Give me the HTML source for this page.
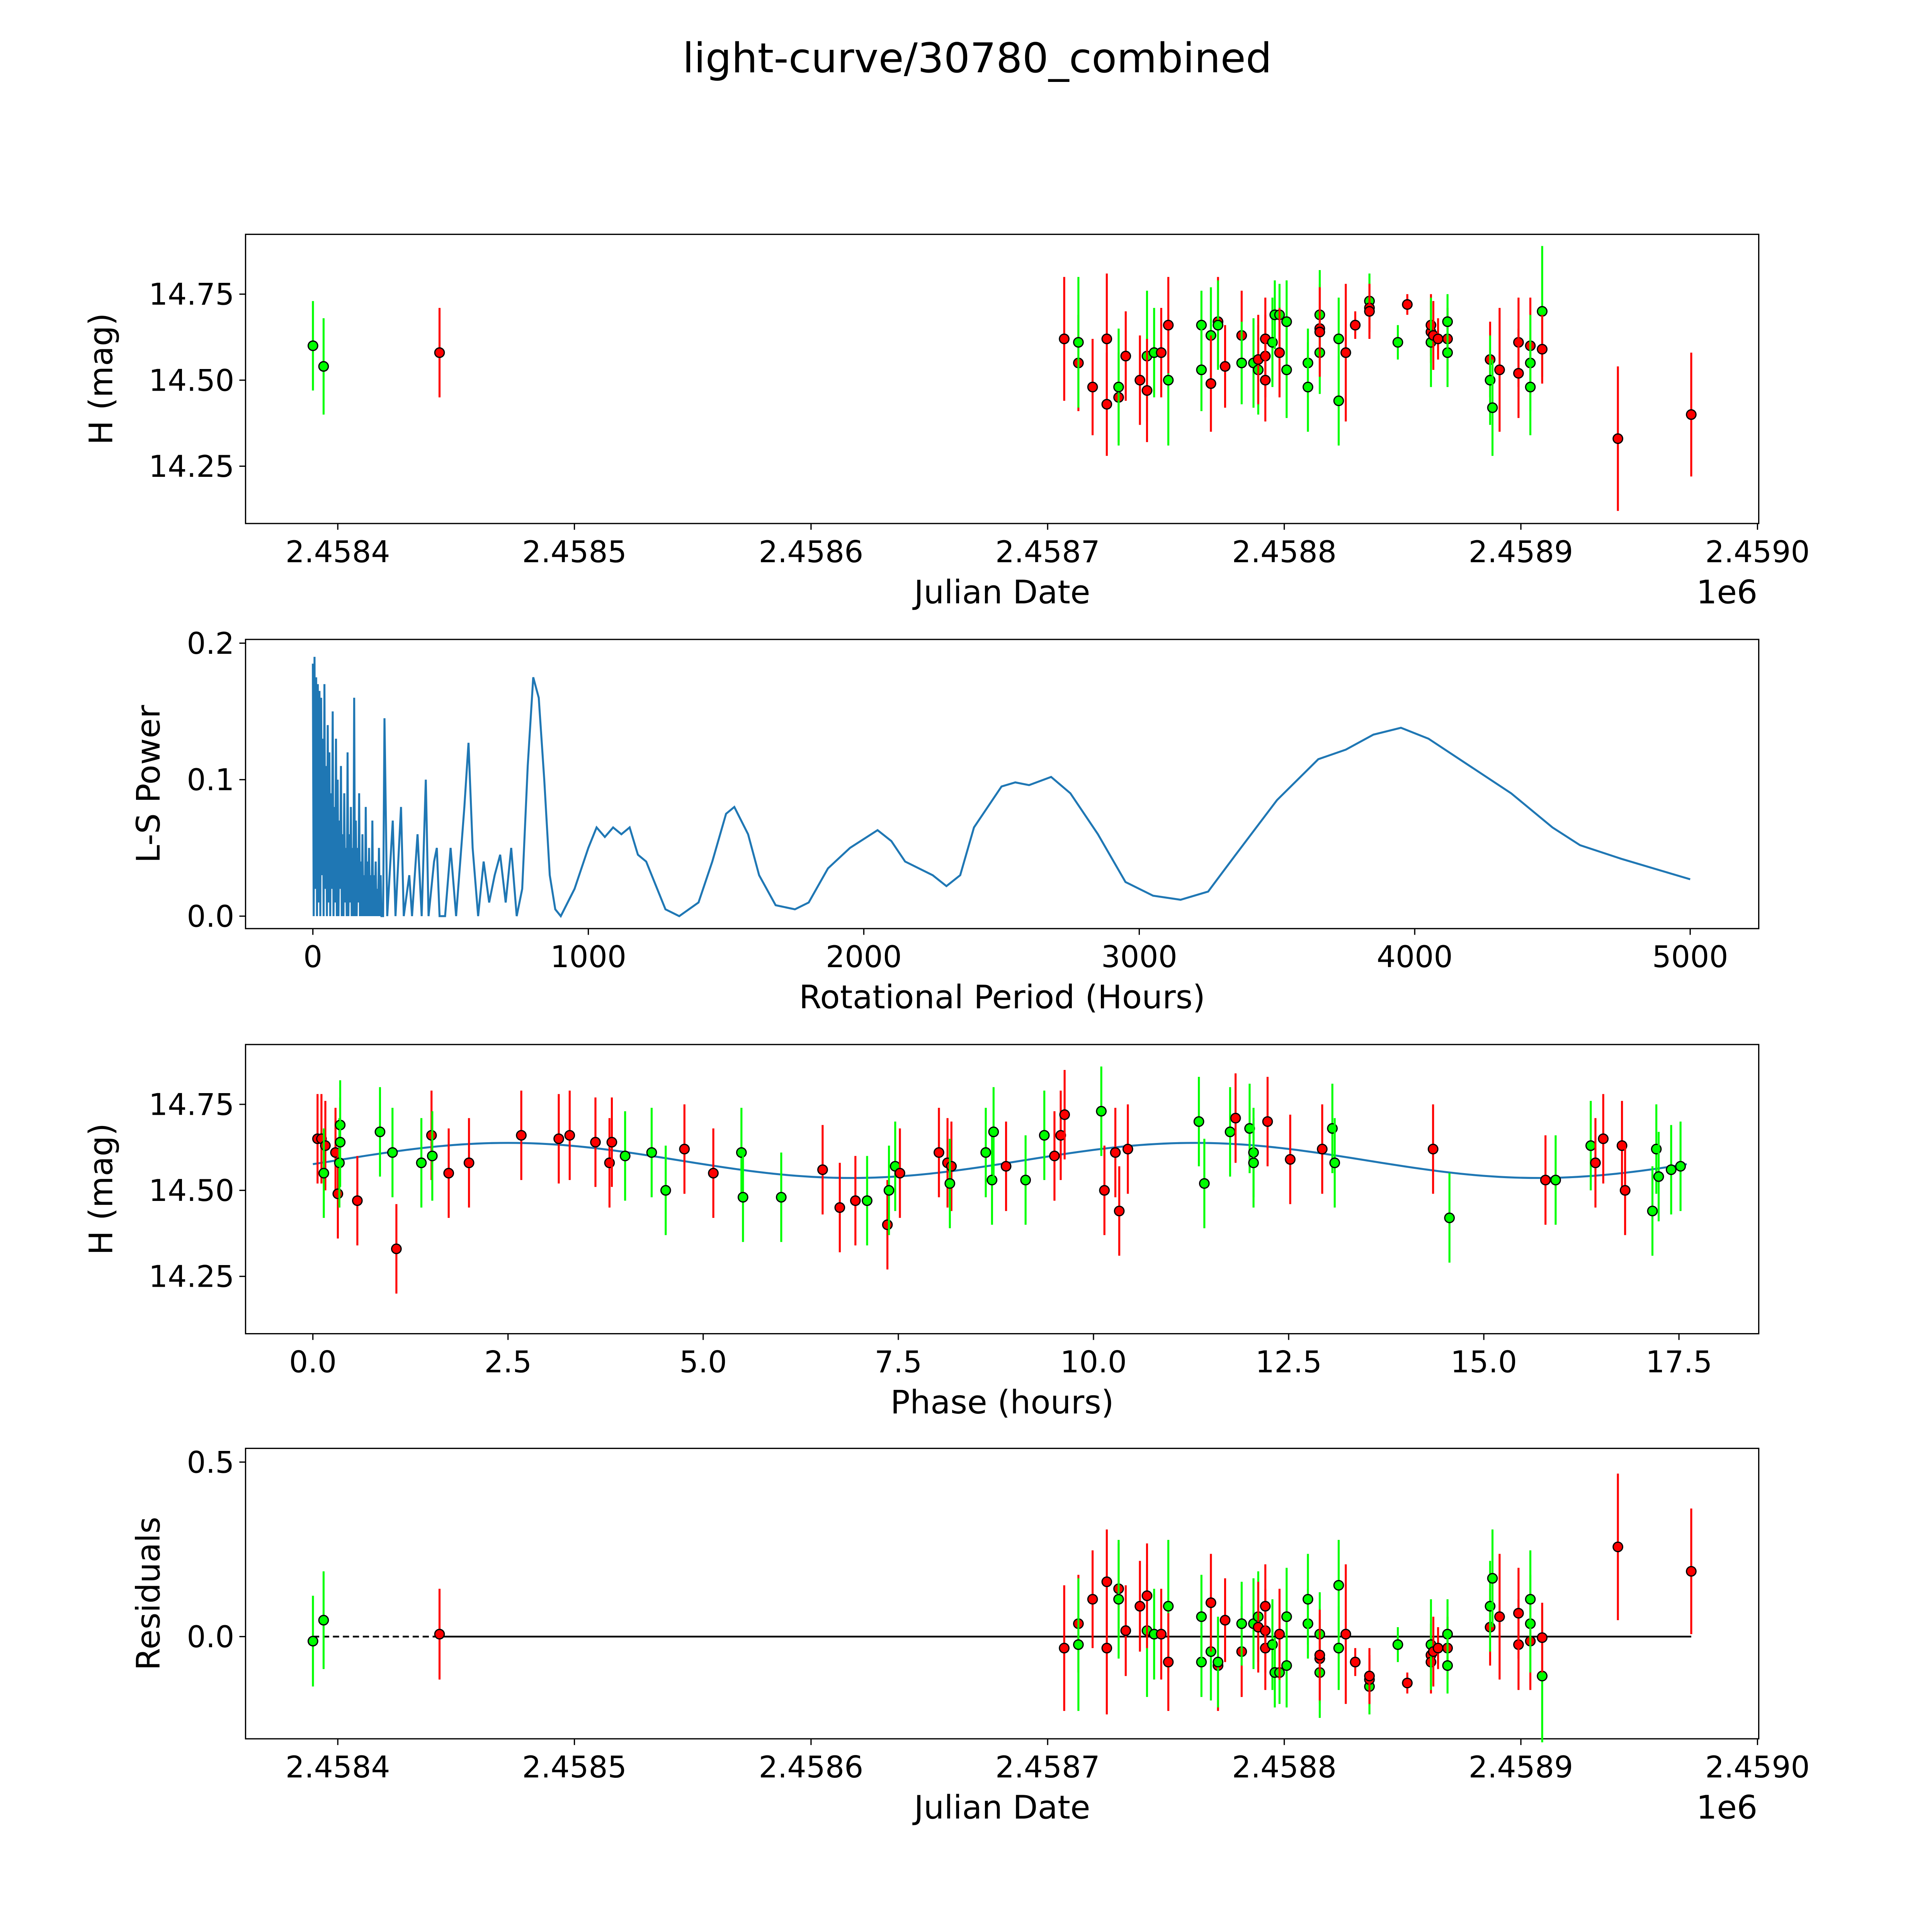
<!DOCTYPE html>
<html><head><meta charset="utf-8">
<style>
html,body{margin:0;padding:0;background:#fff;overflow:hidden;width:100%;height:100%;}
svg{display:block;position:absolute;left:0;top:0;width:100vw;height:100vh;}
text{font-family:"DejaVu Sans","Liberation Sans",sans-serif;fill:#000;}
</style></head>
<body>
<svg id="fig" viewBox="0 0 1550 1550" preserveAspectRatio="none" xmlns="http://www.w3.org/2000/svg">
<rect width="1550" height="1550" fill="#fff"/>
<text x="784" y="58" font-size="33" text-anchor="middle">light-curve/30780_combined</text>
</svg>
<script>
// ---- Panel 1 / 4 data: days since JD 2458000, H mag, error, color (g/r)
const obsDays = [389.5,394,443,707,713,713,719,725,725,730,730,733,739,742,742,745,748,751,751,765,765,769,769,772,772,775,782,782,787,789,789,792,792,792,795,796,798,798,801,801,810,810,815,815,815,815,823,823,826,830,836,836,836,848,852,862,862,862,863,865,869,869,869,887,887,888,891,899,899,904,904,904,909,909,941,972];
const obsMag = [14.60,14.54,14.58,14.62,14.55,14.61,14.48,14.62,14.43,14.45,14.48,14.57,14.50,14.57,14.47,14.58,14.58,14.50,14.66,14.66,14.53,14.63,14.49,14.67,14.66,14.54,14.63,14.55,14.55,14.53,14.56,14.57,14.62,14.50,14.61,14.69,14.69,14.58,14.53,14.67,14.55,14.48,14.65,14.69,14.58,14.64,14.62,14.44,14.58,14.66,14.73,14.71,14.70,14.61,14.72,14.64,14.66,14.61,14.63,14.62,14.62,14.58,14.67,14.56,14.50,14.42,14.53,14.61,14.52,14.60,14.55,14.48,14.70,14.59,14.33,14.40];
const obsErr = [0.13,0.14,0.13,0.18,0.14,0.19,0.14,0.19,0.15,0.13,0.17,0.13,0.13,0.19,0.15,0.13,0.13,0.19,0.14,0.10,0.12,0.14,0.14,0.13,0.13,0.12,0.13,0.12,0.13,0.13,0.13,0.12,0.12,0.12,0.13,0.10,0.09,0.13,0.14,0.12,0.10,0.13,0.13,0.13,0.12,0.13,0.12,0.13,0.20,0.04,0.08,0.07,0.08,0.05,0.03,0.09,0.09,0.13,0.10,0.06,0.09,0.10,0.08,0.11,0.13,0.14,0.18,0.13,0.13,0.14,0.14,0.14,0.19,0.10,0.21,0.18];
const obsColor = ['g','g','r','r','r','g','r','r','r','r','g','r','r','g','r','g','r','g','r','g','g','g','r','r','g','r','r','g','g','g','r','r','r','r','g','g','g','r','g','g','g','g','r','g','g','r','g','g','r','r','g','r','r','g','r','r','r','g','r','r','r','g','g','r','g','g','r','r','r','r','g','g','g','r','r','r'];
// ---- Panel 3 data: phase (hours), H mag, color
const phaseH = [0.06,0.11,0.16,0.14,0.29,0.32,0.34,0.35,0.35,0.57,0.86,1.02,1.07,1.39,1.52,1.53,1.74,2.0,2.67,3.15,3.29,3.62,3.80,3.83,4.0,4.34,4.52,4.76,5.13,5.49,5.51,6.0,6.53,6.75,6.95,7.1,7.36,7.38,7.46,7.52,8.02,8.13,8.18,8.16,8.62,8.70,8.72,8.88,9.13,9.37,9.5,9.58,9.63,10.1,10.14,10.28,10.33,10.44,11.35,11.42,11.75,11.82,12.0,12.05,12.05,12.23,12.52,12.93,13.06,13.09,14.35,14.56,15.79,15.92,16.37,16.43,16.53,16.77,16.81,17.16,17.21,17.24,17.40,17.52];
const phaseMag = [14.65,14.65,14.63,14.55,14.61,14.49,14.58,14.69,14.64,14.47,14.67,14.61,14.33,14.58,14.66,14.60,14.55,14.58,14.66,14.65,14.66,14.64,14.58,14.64,14.60,14.61,14.50,14.62,14.55,14.61,14.48,14.48,14.56,14.45,14.47,14.47,14.40,14.50,14.57,14.55,14.61,14.58,14.57,14.52,14.61,14.53,14.67,14.57,14.53,14.66,14.60,14.66,14.72,14.73,14.50,14.61,14.44,14.62,14.70,14.52,14.67,14.71,14.68,14.61,14.58,14.70,14.59,14.62,14.68,14.58,14.62,14.42,14.53,14.53,14.63,14.58,14.65,14.63,14.50,14.44,14.62,14.54,14.56,14.57];
const phaseColor = ['r','r','r','g','r','r','g','g','g','r','g','g','r','g','r','g','r','r','r','r','r','r','r','r','g','g','g','r','r','g','g','g','r','r','r','g','r','g','g','r','r','r','r','g','g','g','g','r','g','g','r','r','r','g','r','r','r','r','g','g','g','r','g','g','g','r','r','r','g','g','r','g','r','g','g','r','r','r','r','g','g','g','g','g'];
const fitMean = [14.587];
const fitAmp = [0.051];
const fitPeriod = [8.8];
const fitPeak = [2.5];
// ---- Panel 2 periodogram
const lsDensePower = [0.185,0.0,0.19,0.02,0.175,0.0,0.17,0.01,0.165,0.0,0.16,0.03,0.13,0.0,0.17,0.02,0.11,0.0,0.14,0.01,0.12,0.0,0.09,0.02,0.15,0.0,0.08,0.01,0.13,0.0,0.1,0.0,0.07,0.02,0.11,0.0,0.06,0.0,0.09,0.01,0.05,0.0,0.12,0.0,0.06,0.01,0.08,0.0,0.05,0.0,0.16,0.0,0.07,0.0,0.05,0.01,0.09,0.0,0.04,0.0,0.06,0.0,0.03,0.0,0.08,0.0,0.04,0.0,0.05,0.0,0.03,0.0,0.07,0.0,0.03,0.0,0.04,0.0,0.02,0.0,0.05,0.0,0.03,0.0];
const lsDenseStep = [3];
const lsPeriod = [255,260,270,290,300,320,330,350,360,380,395,410,420,440,450,460,480,500,520,550,565,580,600,620,640,660,680,700,720,740,760,780,800,820,840,860,880,900,950,1000,1030,1060,1090,1120,1150,1180,1210,1250,1280,1330,1400,1450,1500,1530,1580,1620,1680,1750,1800,1870,1950,2050,2100,2150,2250,2300,2350,2400,2500,2550,2600,2680,2750,2850,2950,3050,3150,3250,3350,3500,3650,3750,3850,3950,4050,4200,4350,4500,4600,4750,4900,5000];
const lsPower = [0.0,0.145,0.0,0.07,0.0,0.08,0.0,0.03,0.0,0.06,0.0,0.10,0.0,0.04,0.05,0.0,0.0,0.05,0.0,0.08,0.127,0.05,0.0,0.04,0.01,0.03,0.045,0.01,0.05,0.0,0.02,0.11,0.175,0.16,0.10,0.03,0.005,0.0,0.02,0.05,0.065,0.058,0.065,0.06,0.065,0.045,0.04,0.02,0.005,0.0,0.01,0.04,0.075,0.08,0.06,0.03,0.008,0.005,0.01,0.035,0.05,0.063,0.055,0.04,0.03,0.022,0.03,0.065,0.095,0.098,0.096,0.102,0.09,0.06,0.025,0.015,0.012,0.018,0.045,0.085,0.115,0.122,0.133,0.138,0.13,0.11,0.09,0.065,0.052,0.042,0.033,0.027];
// ---- tick labels
const jdTicks = [400,500,600,700,800,900,1000];
const jdTickLabels = ['2.4584','2.4585','2.4586','2.4587','2.4588','2.4589','2.4590'];
const magTicks = [14.25,14.50,14.75];
const magTickLabels = ['14.25','14.50','14.75'];
const perTicks = [0,1000,2000,3000,4000,5000];
const powTicks = [0.0,0.1,0.2];
const powTickLabels = ['0.0','0.1','0.2'];
const phTicks = [0,2.5,5,7.5,10,12.5,15,17.5];
const phTickLabels = ['0.0','2.5','5.0','7.5','10.0','12.5','15.0','17.5'];
const resTicks = [0.0,0.5];
const resTickLabels = ['0.0','0.5'];

const NS='http://www.w3.org/2000/svg';
const svg=document.getElementById('fig');
function mk(tag,attrs,parent){const e=document.createElementNS(NS,tag);for(const k in attrs)e.setAttribute(k,attrs[k]);(parent||svg).appendChild(e);return e;}
const L=197,R=1411;
function lin(d0,d1,p0,p1){return v=>p0+(v-d0)*(p1-p0)/(d1-d0);}
const xJD=lin(400,1000,271,1410);
const y1=lin(14.5,14.75,305,236);
const xP=lin(0,5000,251,1356);
const y2=lin(0,0.2,735,516);
const xPh=lin(0,17.5,251,1347);
const y3=lin(14.5,14.75,955,886);
const y4=lin(0,0.5,1313,1173);
const COL={g:'#00ff00',r:'#ff0000'};

function axes(name,top,bot,xt,xl,xf,yt,yl,yf,xlabel,ylabel,extra){
  const g=mk('g',{});
  
  
  const fr=mk('rect',{x:L,y:top,width:R-L,height:bot-top,fill:'none',stroke:'#000','stroke-width':1},g);
  
  
  xt.forEach((v,i)=>{const x=xf(v);mk('line',{x1:x,x2:x,y1:bot,y2:bot+5,stroke:'#000'},g);
    const t=mk('text',{x:x,y:bot+31,'font-size':24,'text-anchor':'middle'},g);t.textContent=xl[i];
    
    });
  yt.forEach((v,i)=>{const y=yf(v);mk('line',{x1:L-5,x2:L,y1:y,y2:y,stroke:'#000'},g);
    const t=mk('text',{x:L-9,y:y+8.5,'font-size':24,'text-anchor':'end'},g);t.textContent=yl[i];
    
    });
  const xl2=mk('text',{x:804,y:bot+64,'font-size':26,'text-anchor':'middle'},g);xl2.textContent=xlabel;
  
  
  const cy=(top+bot)/2;
  const yx = extra && extra.ylx ? extra.ylx : 92;
  const yl2=mk('text',{x:yx,y:cy,'font-size':26,'text-anchor':'middle',transform:`rotate(-90 ${yx} ${cy})`},g);yl2.textContent=ylabel;
  
  
  if(extra&&extra.offset){const o=mk('text',{x:1410,y:bot+64,'font-size':26,'text-anchor':'end'},g);o.textContent='1e6';
    
    }
  return g;
}
function point(g,x,y,ylo,yhi,c){
  const eb=mk('line',{x1:x,x2:x,y1:ylo,y2:yhi,stroke:COL[c],'stroke-width':1.6},g);
  
  
  const p=mk('circle',{cx:x,cy:y,r:3.8,fill:COL[c],stroke:'#000','stroke-width':1},g);
  
  
}

// Panel 1
const g1=axes('magnitude-vs-jd-panel',188,420,jdTicks,jdTickLabels,xJD,magTicks,magTickLabels,y1,'Julian Date','H (mag)',{offset:true,ylx:90});
obsDays.forEach((d,i)=>point(g1,xJD(d),y1(obsMag[i]),y1(obsMag[i]-obsErr[i]),y1(obsMag[i]+obsErr[i]),obsColor[i]));

// Panel 2
const g2=axes('periodogram-panel',513,745,perTicks,perTicks.map(String),xP,powTicks,powTickLabels,y2,'Rotational Period (Hours)','L-S Power',{ylx:128});
let pts=[];
lsDensePower.forEach((v,i)=>pts.push(xP(i*lsDenseStep[0]).toFixed(2)+','+y2(v).toFixed(2)));
lsPeriod.forEach((p,i)=>pts.push(xP(p).toFixed(2)+','+y2(lsPower[i]).toFixed(2)));
const pl=mk('polyline',{points:pts.join(' '),fill:'none',stroke:'#1f77b4','stroke-width':1.6},g2);



// Panel 3
const g3=axes('phase-folded-panel',838,1070,phTicks,phTickLabels,xPh,magTicks,magTickLabels,y3,'Phase (hours)','H (mag)',{ylx:90});
const model=t=>fitMean[0]+fitAmp[0]*Math.cos(2*Math.PI*(t-fitPeak[0])/fitPeriod[0]);
let mp=[];for(let t=0;t<=17.65;t+=0.1)mp.push(xPh(t).toFixed(2)+','+y3(model(t)).toFixed(2));
const ml=mk('polyline',{points:mp.join(' '),fill:'none',stroke:'#1f77b4','stroke-width':1.6},g3);


phaseH.forEach((p,i)=>{const e=0.13;point(g3,xPh(p),y3(phaseMag[i]),y3(phaseMag[i]-e),y3(phaseMag[i]+e),phaseColor[i]);});

// Panel 4
const g4=axes('residuals-panel',1162,1395,jdTicks,jdTickLabels,xJD,resTicks,resTickLabels,y4,'Julian Date','Residuals',{offset:true,ylx:128});
const z1=mk('line',{x1:xJD(obsDays[0]),x2:xJD(obsDays[2]),y1:y4(0),y2:y4(0),stroke:'#000','stroke-width':1.4,'stroke-dasharray':'5,3'},g4);


const z2=mk('line',{x1:xJD(obsDays[2]),x2:xJD(obsDays[obsDays.length-1]),y1:y4(0),y2:y4(0),stroke:'#000','stroke-width':1.4},g4);


obsDays.forEach((d,i)=>{const r=fitMean[0]-obsMag[i];point(g4,xJD(d),y4(r),y4(r-obsErr[i]),y4(r+obsErr[i]),obsColor[i]);});
</script>
</body></html>
